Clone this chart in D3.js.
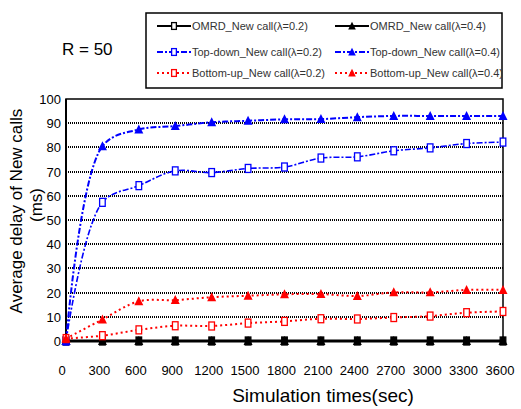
<!DOCTYPE html>
<html>
<head>
<meta charset="utf-8">
<script src="https://cdn.jsdelivr.net/npm/d3@7"></script>
<style>
  body { margin: 0; background: #fff; }
  text { font-family: "Liberation Sans", Arial, sans-serif; }
</style>
</head>
<body>
<div id="chart"></div>
<script>
// data
const times = [0, 300, 600, 900, 1200, 1500, 1800, 2100, 2400, 2700, 3000, 3300, 3600];
const yTicks = [0, 10, 20, 30, 40, 50, 60, 70, 80, 90, 100];
const omrd02 = [0, 0, 0, 0, 0, 0, 0, 0, 0, 0, 0, 0, 0];
const omrd04 = [0, 0, 0, 0, 0, 0, 0, 0, 0, 0, 0, 0, 0];
const top02 = [0, 57.3, 64.2, 70.3, 69.6, 71.3, 71.9, 75.6, 76.1, 78.6, 79.8, 81.6, 82.2];
const top04 = [0, 80.5, 87.4, 88.8, 90.4, 91, 91.6, 91.7, 92.5, 93, 93, 93, 93];
const bot02 = [1, 2.2, 4.6, 6.3, 6.2, 7.4, 8.1, 9.2, 9.1, 9.7, 10.3, 11.7, 12.2];
const bot04 = [1, 8.9, 16.4, 16.9, 18.1, 18.7, 19.3, 19.4, 18.6, 20.1, 20.1, 21.1, 21.1];

const series = [
    { name: "OMRD_New call(λ=0.2)", values: omrd02, color: "#000", dash: null, marker: "square", width: 2 },
    { name: "OMRD_New call(λ=0.4)", values: omrd04, color: "#000", dash: null, marker: "triangle", width: 2 },
    { name: "Top-down_New call(λ=0.2)", values: top02, color: "#0000ff", dash: "6,2,2,2", marker: "square", width: 1.6 },
    { name: "Top-down_New call(λ=0.4)", values: top04, color: "#0000ff", dash: "6,2,2,2", marker: "triangle", width: 2 },
    { name: "Bottom-up_New call(λ=0.2)", values: bot02, color: "#ff0000", dash: "2,3", marker: "square", width: 2 },
    { name: "Bottom-up_New call(λ=0.4)", values: bot04, color: "#ff0000", dash: "2,3", marker: "triangle", width: 2 }
];

const width = 521, height = 409;
const svg = d3.select("#chart").append("svg")
    .attr("width", width)
    .attr("height", height);

const x = d3.scaleLinear().domain([0, 3600]).range([66, 503]);
const y = d3.scaleLinear().domain([0, 100]).range([341, 99]);

// gridlines (dotted, snapped to pixels so they stay black)
svg.append("g")
    .selectAll("line")
    .data(yTicks.filter(d => d > 0 && d < 100))
    .enter().append("line")
    .attr("x1", x(0))
    .attr("x2", x(3600))
    .attr("y1", d => Math.round(y(d)))
    .attr("y2", d => Math.round(y(d)))
    .attr("stroke", "#000")
    .attr("stroke-width", 2)
    .attr("stroke-dasharray", "1,1")
    .attr("shape-rendering", "crispEdges");

// frame
svg.append("rect")
    .attr("x", x(0))
    .attr("y", y(100))
    .attr("width", x(3600) - x(0))
    .attr("height", y(0) - y(100))
    .attr("fill", "none")
    .attr("stroke", "#000")
    .attr("stroke-width", 1.5);

svg.append("line")
    .attr("x1", x(0)).attr("x2", x(3600))
    .attr("y1", y(0)).attr("y2", y(0))
    .attr("stroke", "#000")
    .attr("stroke-width", 3);
svg.append("line")
    .attr("x1", x(0)).attr("x2", x(0))
    .attr("y1", y(0)).attr("y2", y(100))
    .attr("stroke", "#000")
    .attr("stroke-width", 2);

// tick labels
svg.append("g")
    .selectAll("text")
    .data(yTicks)
    .enter().append("text")
    .attr("x", 61)
    .attr("y", d => y(d) + 5)
    .attr("text-anchor", "end")
    .attr("font-size", 13)
    .text(d => d);

svg.append("g")
    .selectAll("text")
    .data(times)
    .enter().append("text")
    .attr("x", d => x(d) - (d === 0 ? 4 : 3))
    .attr("y", 375)
    .attr("text-anchor", "middle")
    .attr("font-size", 13)
    .text(d => d);

// axis titles
svg.append("text")
    .attr("x", 323)
    .attr("y", 402)
    .attr("text-anchor", "middle")
    .attr("font-size", 19)
    .text("Simulation times(sec)");

svg.append("text")
    .attr("transform", "translate(22,211) rotate(-90)")
    .attr("text-anchor", "middle")
    .attr("font-size", 17)
    .text("Average delay of New calls");
svg.append("text")
    .attr("transform", "translate(42,205) rotate(-90)")
    .attr("text-anchor", "middle")
    .attr("font-size", 17)
    .text("(ms)");

svg.append("text")
    .attr("x", 62)
    .attr("y", 55)
    .attr("font-size", 17)
    .text("R = 50");

// markers
function drawMarker(g, type, color, fill, cx, cy, s) {
    if (type === "square") {
        g.append("rect")
            .attr("x", cx - 2.8 * s)
            .attr("y", cy - 4 * s)
            .attr("width", 5.6 * s)
            .attr("height", 8 * s)
            .attr("fill", fill)
            .attr("stroke", color)
            .attr("stroke-width", 1.3);
    } else {
        g.append("path")
            .attr("d", `M${cx},${cy - 5 * s}L${cx + 4.5 * s},${cy + 4 * s}L${cx - 4.5 * s},${cy + 4 * s}Z`)
            .attr("fill", color);
    }
}

const line = d3.line()
    .x((d, i) => x(times[i]))
    .y(d => y(d))
    .curve(d3.curveCatmullRom.alpha(0.5));

const plot = svg.append("g");
series.slice().reverse().forEach(s => {
    plot.append("path")
        .attr("d", line(s.values))
        .attr("fill", "none")
        .attr("stroke", s.color)
        .attr("stroke-width", s.width)
        .attr("stroke-dasharray", s.dash);
});
series.forEach(s => {
    const fill = s.color === "#000" ? "#000" : "#fff";
    s.values.forEach((v, i) => drawMarker(plot, s.marker, s.color, fill, x(times[i]), y(v), 1));
});

// legend
const legend = svg.append("g");
legend.append("rect")
    .attr("x", 146)
    .attr("y", 13)
    .attr("width", 356)
    .attr("height", 75)
    .attr("fill", "#fff")
    .attr("stroke", "#000")
    .attr("stroke-width", 1.5);

const rowY = [26, 52, 73];
const colX = [157, 335];
series.forEach((s, i) => {
    const lx = colX[i % 2];
    const ly = rowY[Math.floor(i / 2)];
    legend.append("line")
        .attr("x1", lx).attr("x2", lx + 34)
        .attr("y1", ly).attr("y2", ly)
        .attr("stroke", s.color)
        .attr("stroke-width", 2)
        .attr("stroke-dasharray", s.dash);
    drawMarker(legend, s.marker, s.color, "#fff", lx + 17, ly, 0.85);
    legend.append("text")
        .attr("x", lx + 35)
        .attr("y", ly + 4)
        .attr("font-size", 11)
        .attr("fill", "#333")
        .text(s.name);
});
</script>
</body>
</html>
